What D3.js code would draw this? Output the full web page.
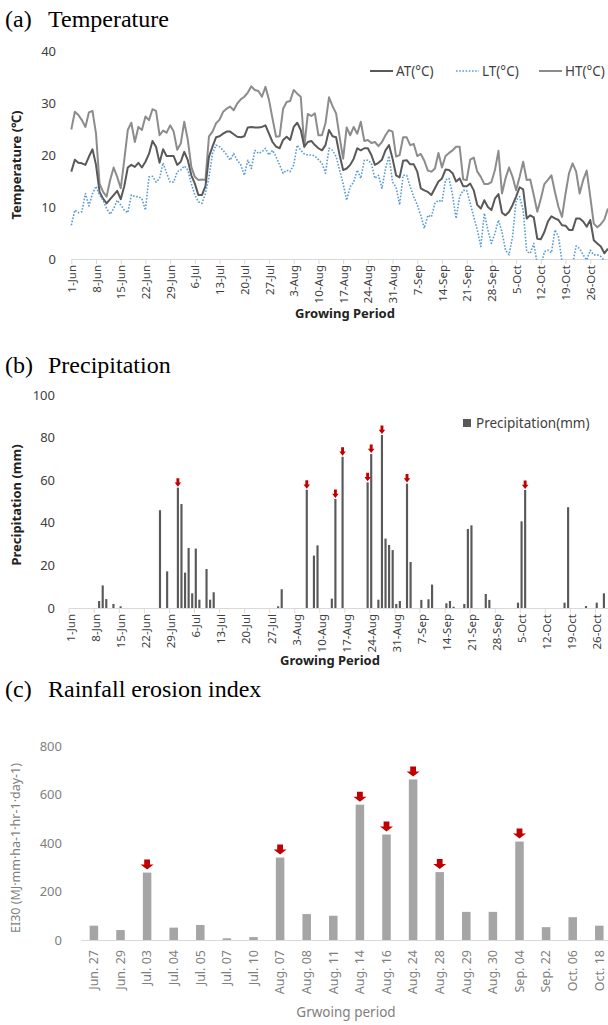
<!DOCTYPE html>
<html>
<head>
<meta charset="utf-8">
<script src="https://cdn.jsdelivr.net/npm/d3@7"></script>
<style>
body { margin: 0; background: #fff; }
svg { display: block; }
</style>
</head>
<body>
<svg id="chart" width="608" height="1025"></svg>
<script>
// daily series, 1-Jun .. 31-Oct (153 days)
const tempAT = [16.8,19.1,18.5,18.4,18.1,19.7,21.1,18.1,12.9,11.6,10.7,11.5,12.3,13.1,11.5,14.0,17.6,18.1,17.7,18.5,
  17.6,18.7,20.2,22.7,21.6,18.5,21.1,19.8,19.8,19.8,18.1,18.7,20.6,19.0,16.1,14.5,12.3,12.3,14.0,19.7,
  21.6,23.4,23.6,24.1,24.5,24.5,24.0,23.5,23.4,23.6,25.3,25.4,25.3,25.3,25.4,25.7,24.1,22.5,21.6,21.3,
  22.9,23.5,22.9,25.4,26.2,24.8,21.6,22.5,22.7,21.9,21.3,20.9,21.9,24.8,23.6,23.4,20.0,17.1,17.4,18.1,
  19.3,21.3,20.9,21.3,21.3,20.0,18.1,18.5,19.1,20.9,21.9,19.3,16.1,15.7,18.9,19.0,18.2,18.2,16.8,13.6,
  13.2,12.9,12.3,13.6,14.9,15.5,17.2,17.1,16.5,14.9,15.5,14.0,14.0,14.5,13.2,10.4,9.7,11.3,10.0,9.4,
  11.6,12.5,8.9,8.4,9.1,10.4,12.0,13.8,13.4,7.8,8.4,8.0,3.9,3.8,5.2,7.2,8.2,7.8,7.5,6.5,
  6.4,5.6,5.6,7.8,7.8,7.2,6.2,7.5,3.6,3.0,2.4,1.1,2.0];
const tempLT = [6.5,9.4,8.9,9.1,12.6,10.2,12.6,14.0,12.3,11.3,9.7,8.6,9.7,11.3,10.4,9.4,8.9,12.3,12.0,12.0,
  11.6,9.4,15.8,15.9,14.8,15.5,18.5,16.5,14.8,14.8,16.8,17.1,17.9,17.1,14.5,12.3,11.0,10.7,12.6,15.8,
  20.3,21.9,21.6,20.9,20.0,19.0,20.3,19.0,18.1,16.1,19.0,17.4,20.9,20.3,20.6,21.3,20.0,20.9,19.7,18.1,
  16.5,17.1,16.8,18.1,21.9,20.9,20.2,20.0,20.0,19.8,19.1,18.4,16.5,21.3,20.9,19.7,17.1,14.5,11.3,13.9,
  14.8,17.1,15.5,19.0,19.0,18.4,15.5,16.1,13.6,17.4,19.8,14.8,13.8,10.4,16.1,16.1,13.9,12.0,10.4,8.4,
  5.9,8.4,8.1,10.7,11.3,11.0,15.2,15.5,12.3,7.8,12.0,13.2,13.2,10.7,8.1,5.6,2.4,8.8,5.6,3.0,
  4.9,7.5,5.2,1.7,0.8,4.3,11.3,12.0,9.4,1.4,1.1,3.0,-1.0,-1.5,1.4,1.7,1.2,5.6,4.3,-0.5,
  -2.0,-1.5,-1.0,2.5,2.0,0.8,-0.2,1.7,0.8,0.8,0.5,-0.3,-0.5];
const tempHT = [24.9,28.3,27.7,26.7,25.4,28.2,28.5,24.1,14.5,12.9,12.0,15.2,17.6,15.8,13.6,19.0,24.8,26.2,22.5,25.4,
  24.8,27.4,26.7,28.8,28.5,23.8,24.7,24.3,25.7,24.5,21.0,22.2,26.4,22.9,17.7,15.8,15.2,15.3,15.2,23.6,
  24.5,26.1,26.8,28.3,28.9,29.3,28.6,29.9,30.7,31.2,32.0,33.2,32.5,32.3,31.2,33.1,30.6,27.0,23.5,23.6,
  28.9,30.2,30.4,32.5,31.8,31.2,21.6,27.9,27.5,28.0,23.8,23.8,26.1,31.1,29.4,28.0,23.5,19.3,25.3,23.8,
  25.4,24.1,26.4,22.7,22.9,22.3,22.5,21.7,22.5,23.8,24.8,24.5,19.7,20.0,23.4,23.4,21.9,22.1,19.8,20.2,
  18.9,17.0,16.8,17.4,20.4,17.6,19.8,20.4,20.9,21.6,21.6,15.3,15.2,19.1,19.5,16.8,15.8,14.4,14.4,14.8,
  17.1,20.8,12.6,15.5,17.6,15.8,13.2,15.8,18.7,15.2,15.3,12.3,9.1,11.6,14.4,15.2,16.1,12.9,10.0,8.1,
  12.6,16.5,18.4,16.8,12.6,15.2,17.0,12.0,6.8,6.1,6.7,7.6,9.7];

// rain days (index from 1-Jun) and amounts in mm
const rainDay = [8,9,10,12,14,25,27,30,31,32,33,34,35,36,38,39,40,58,59,66,68,69,73,74,76,83,84,86,87,88,
  89,90,91,92,94,95,98,100,101,105,106,107,110,111,112,116,117,125,126,127,138,139,144,147,149];
const rainMm = [3.3,10.6,4.2,1.9,0.8,45.9,17.2,56.5,48.8,16.6,28.2,6.9,27.9,3.9,18.3,3.9,7.4,0.8,8.8,55.5,24.6,29.4,4.4,51.2,71.0,59.0,72.3,3.9,81.2,32.6,
  29.6,27.2,1.9,3.3,58.4,21.6,3.8,4.1,11.0,2.2,3.3,0.6,1.9,37.1,38.8,6.6,3.8,2.5,40.7,55.4,2.5,47.3,0.9,2.5,6.9];
const rainArrowDay = [30,66,74,76,83,84,87,94,127];

const eiDates = ["Jun. 27","Jun. 29","Jul. 03","Jul. 04","Jul. 05","Jul. 07","Jul. 10","Aug. 07","Aug. 08","Aug. 11",
  "Aug. 14","Aug. 16","Aug. 24","Aug. 28","Aug. 29","Aug. 30","Sep. 04","Sep. 22","Oct. 06","Oct. 18"];
const eiValues = [59,41,278,51,62,7,12,340,107,100,558,435,662,280,116,116,406,53,94,59];
const eiArrows = ["Jul. 03","Aug. 07","Aug. 14","Aug. 16","Aug. 24","Aug. 28","Sep. 04"];

const tempTicks = [0,10,20,30,40];
const rainTicks = [0,20,40,60,80,100];
const eiTicks = [0,200,400,600,800];
const weekTicks = d3.range(0, 153, 7);

const nDays = 153;
const dayFmt = d3.timeFormat("%-d-%b");
function dayLabel(i) {
    return dayFmt(d3.timeDay.offset(new Date(2019, 5, 1), i));
}

const fontSans = "'Noto Sans', 'Open Sans', sans-serif";
const fontSerif = "'Liberation Serif', 'Times New Roman', serif";
const red = "#c00000";

const svg = d3.select("#chart");

// block arrow pointing down, tip at 0,0
function arrowPath(w, h) {
    const hw = w / 2, sw = w / 4.5, hh = h * 0.5;
    return "M" + (-sw) + "," + (-h) + "L" + sw + "," + (-h) + "L" + sw + "," + (-hh) + "L" + hw + "," + (-hh)
        + "L0,0L" + (-hw) + "," + (-hh) + "L" + (-sw) + "," + (-hh) + "Z";
}

function panelTitle(y, tag, name) {
    const t = svg.append("text")
        .attr("y", y)
        .style("font-family", fontSerif)
        .style("font-size", "24px")
        .style("fill", "#000");
    t.append("tspan").attr("x", 5).text(tag);
    t.append("tspan").attr("x", 48).text(name);
}

function styleAxis(g, color) {
    g.select(".domain").attr("stroke", "#d9d9d9");
    g.selectAll(".tick line").attr("stroke", "#d9d9d9");
    g.selectAll(".tick text")
        .style("font-family", fontSans)
        .style("font-size", "11.5px")
        .style("fill", color);
}

// ---------- (a) Temperature ----------
panelTitle(27, "(a)", "Temperature");

const xT = d3.scaleLinear().domain([0, nDays - 1]).range([71.3, 607.9]);
const yT = d3.scaleLinear().domain([0, 40]).range([259, 51]);

svg.append("defs").append("clipPath").attr("id", "clipT")
    .append("rect").attr("x", 60).attr("y", 40).attr("width", 560).attr("height", 220);

const gTy = svg.append("g").attr("transform", "translate(56,0)")
    .call(d3.axisLeft(yT).tickValues(tempTicks).tickSize(0).tickPadding(0));
gTy.select(".domain").remove();
styleAxis(gTy, "#404040");
gTy.selectAll(".tick text").style("font-size", "13px");

const gTx = svg.append("g").attr("transform", "translate(0,259)")
    .call(d3.axisBottom(xT).tickValues(weekTicks).tickFormat(dayLabel).tickSize(5).tickSizeOuter(0));
styleAxis(gTx, "#404040");
gTx.selectAll(".tick text")
    .attr("transform", "rotate(-90)")
    .attr("x", -6).attr("y", 0).attr("dy", "0.35em")
    .style("text-anchor", "end");

const lineT = d3.line().x((d, i) => xT(i)).y(d => yT(d));
const seriesT = [
    { name: "AT(°C)", values: tempAT, color: "#595959", width: 2, dash: null },
    { name: "LT(°C)", values: tempLT, color: "#5b9bd5", width: 1.6, dash: "1.6,1.6" },
    { name: "HT(°C)", values: tempHT, color: "#8c8c8c", width: 2, dash: null }
];
const gLines = svg.append("g").attr("clip-path", "url(#clipT)");
[seriesT[2], seriesT[0], seriesT[1]].forEach(function (s) {
    gLines.append("path")
        .datum(s.values)
        .attr("fill", "none")
        .attr("stroke", s.color)
        .attr("stroke-width", s.width)
        .attr("stroke-dasharray", s.dash)
        .attr("stroke-linejoin", "round")
        .attr("d", lineT);
});

const legX = [370, 456, 539];
seriesT.forEach(function (s, i) {
    const g = svg.append("g").attr("transform", "translate(" + legX[i] + ",71)");
    g.append("line").attr("x1", 0).attr("x2", 23).attr("y1", 0).attr("y2", 0)
        .attr("stroke", s.color).attr("stroke-width", s.width).attr("stroke-dasharray", s.dash);
    g.append("text").attr("x", 26).attr("y", 0).attr("dy", "0.35em")
        .style("font-family", fontSans).style("font-size", "13.5px").style("fill", "#404040")
        .text(s.name);
});

svg.append("text")
    .attr("transform", "translate(21,165)rotate(-90)")
    .attr("text-anchor", "middle")
    .style("font-family", fontSans).style("font-size", "13px").style("font-weight", "bold")
    .style("fill", "#222")
    .text("Temperature (℃)");

svg.append("text")
    .attr("x", 345).attr("y", 318)
    .attr("text-anchor", "middle")
    .style("font-family", fontSans).style("font-size", "13px").style("font-weight", "bold")
    .style("fill", "#222")
    .text("Growing Period");

// ---------- (b) Precipitation ----------
panelTitle(373, "(b)", "Precipitation");

const xR = d3.scaleBand().domain(d3.range(nDays)).range([68.7, 68.7 + nDays * 3.58])
    .paddingInner(0.4).paddingOuter(0.2);
const xRaxis = d3.scaleLinear().domain([0, nDays]).range([68.7, 68.7 + nDays * 3.58]);
const yR = d3.scaleLinear().domain([0, 100]).range([608, 395]);

const gRy = svg.append("g").attr("transform", "translate(55,0)")
    .call(d3.axisLeft(yR).tickValues(rainTicks).tickSize(0).tickPadding(0));
gRy.select(".domain").remove();
styleAxis(gRy, "#404040");
gRy.selectAll(".tick text").style("font-size", "13px");

const gRx = svg.append("g").attr("transform", "translate(0,608)")
    .call(d3.axisBottom(xRaxis).tickValues(weekTicks).tickFormat(dayLabel).tickSize(5).tickSizeOuter(0));
styleAxis(gRx, "#404040");
gRx.selectAll(".tick text")
    .attr("transform", "rotate(-90)")
    .attr("x", -6).attr("y", 1.8).attr("dy", "0.35em")
    .style("text-anchor", "end");

const rainData = rainDay.map((d, i) => ({ day: d, mm: rainMm[i] }));
svg.append("g").selectAll("rect")
    .data(rainData)
    .enter()
    .append("rect")
    .attr("x", d => xR(d.day))
    .attr("y", d => yR(d.mm))
    .attr("width", xR.bandwidth())
    .attr("height", d => yR(0) - yR(d.mm))
    .attr("fill", "#595959");

svg.append("g").selectAll("path")
    .data(rainData.filter(d => rainArrowDay.includes(d.day)))
    .enter()
    .append("path")
    .attr("transform", d => "translate(" + (xR(d.day) + xR.bandwidth() / 2) + "," + (yR(d.mm) - 1) + ")")
    .attr("d", arrowPath(6.5, 8.5))
    .attr("fill", red);

svg.append("rect").attr("x", 463).attr("y", 419).attr("width", 8).attr("height", 8).attr("fill", "#595959");
svg.append("text").attr("x", 476).attr("y", 423).attr("dy", "0.35em")
    .style("font-family", fontSans).style("font-size", "13.5px").style("fill", "#404040")
    .text("Precipitation(mm)");

svg.append("text")
    .attr("transform", "translate(21,505)rotate(-90)")
    .attr("text-anchor", "middle")
    .style("font-family", fontSans).style("font-size", "13px").style("font-weight", "bold")
    .style("fill", "#222")
    .text("Precipitation (mm)");

svg.append("text")
    .attr("x", 330).attr("y", 665)
    .attr("text-anchor", "middle")
    .style("font-family", fontSans).style("font-size", "13px").style("font-weight", "bold")
    .style("fill", "#222")
    .text("Growing Period");

// ---------- (c) Rainfall erosion index ----------
panelTitle(697, "(c)", "Rainfall erosion index");

const xE = d3.scaleBand().domain(eiDates).range([80.6, 612.6]).paddingInner(0.68).paddingOuter(0.34);
const yE = d3.scaleLinear().domain([0, 800]).range([940, 746]);

const gEy = svg.append("g").attr("transform", "translate(62,0)")
    .call(d3.axisLeft(yE).tickValues(eiTicks).tickSize(0).tickPadding(0));
gEy.select(".domain").remove();
styleAxis(gEy, "#7f7f7f");
gEy.selectAll(".tick text").style("font-size", "13px");

const gEx = svg.append("g").attr("transform", "translate(0,940)")
    .call(d3.axisBottom(xE).tickSize(0).tickSizeOuter(0));
styleAxis(gEx, "#7f7f7f");
gEx.selectAll(".tick text")
    .attr("transform", "rotate(-90)")
    .attr("x", -10).attr("y", 0).attr("dy", "0.35em")
    .style("text-anchor", "end")
    .style("font-size", "12.5px");

svg.append("g").selectAll("rect")
    .data(eiDates)
    .enter()
    .append("rect")
    .attr("x", d => xE(d))
    .attr("y", (d, i) => yE(eiValues[i]))
    .attr("width", xE.bandwidth())
    .attr("height", (d, i) => yE(0) - yE(eiValues[i]))
    .attr("fill", "#a5a5a5");

svg.append("g").selectAll("path")
    .data(eiArrows)
    .enter()
    .append("path")
    .attr("transform", d => "translate(" + (xE(d) + xE.bandwidth() / 2) + "," + (yE(eiValues[eiDates.indexOf(d)]) - 3) + ")")
    .attr("d", arrowPath(13, 10))
    .attr("fill", red);

svg.append("text")
    .attr("transform", "translate(20,848)rotate(-90)")
    .attr("text-anchor", "middle")
    .style("font-family", fontSans).style("font-size", "12.5px")
    .style("fill", "#7f7f7f")
    .text("EI30 (MJ·mm·ha-1·hr-1·day-1)");

svg.append("text")
    .attr("x", 346).attr("y", 1017)
    .attr("text-anchor", "middle")
    .style("font-family", fontSans).style("font-size", "13.5px")
    .style("fill", "#7f7f7f")
    .text("Grwoing period");
</script>
</body>
</html>
